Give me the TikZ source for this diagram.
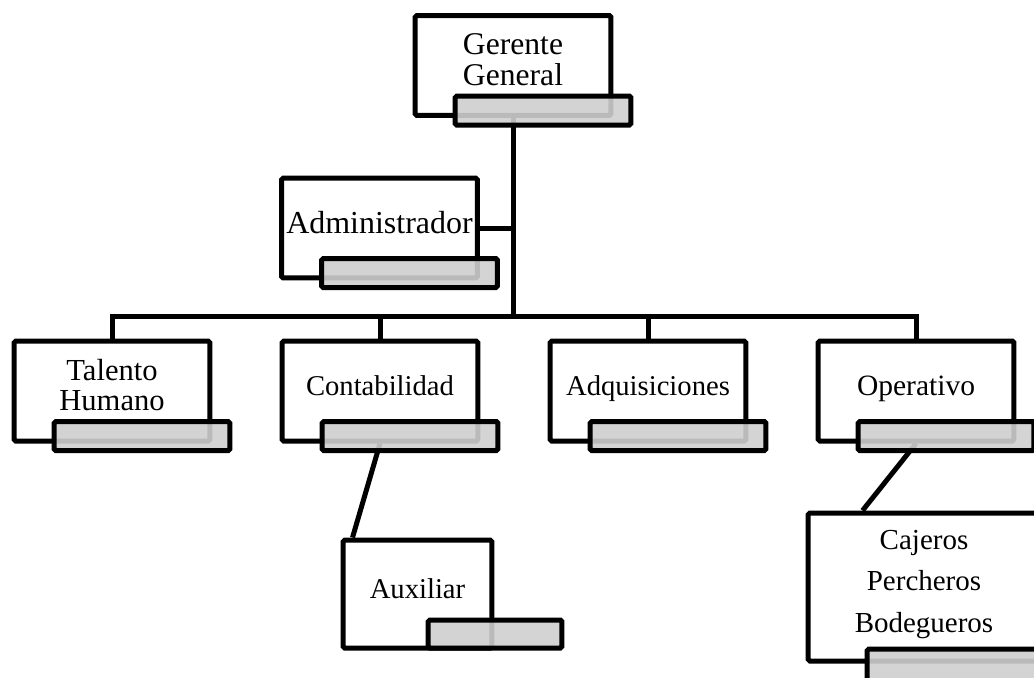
\documentclass[tikz,border=0pt]{standalone}
\usepackage{fontspec}
\setmainfont{Liberation Serif}
\usetikzlibrary{calc,backgrounds}

\newcommand*{\linew}{0.1cm}
\newcommand*{\boxfont}[2]{\fontsize{#1}{#2}\selectfont}

\begin{document}
\begin{tikzpicture}
[
	x=0.02cm,
	y=-0.02cm,
	box/.style={draw,fill=white,line width=\linew,rounded corners=1pt,minimum width=3.92cm,minimum height=2cm,inner sep=0pt,align=center,text depth=0.23cm,font=\boxfont{16.3}{17}},
	bar/.style={draw,fill=black!19,fill opacity=0.9,line width=\linew,rounded corners=1pt,minimum width=3.52cm,minimum height=0.58cm,inner sep=0pt},
	conn/.style={line width=\linew}
]

	\useasboundingbox (0,0) rectangle (1034,677);
	\clip (0,0) rectangle (1034,677);

	% top
	\node[box,font=\boxfont{18}{17.5}] (ger) at (513,65.5) {Gerente\\General};
	\node[bar] (gerbar) at ([shift={(30,45)}]ger.center) {};

	\node[box,font=\boxfont{18.2}{17.5}] (adm) at (379.5,228) {Administrador};
	\node[bar] (admbar) at ([shift={(30,45)}]adm.center) {};

	% departments
	\node[box,font=\boxfont{17.4}{17}] (tal) at (112,391) {Talento\\Humano};
	\node[bar] (talbar) at ([shift={(30,45)}]tal.center) {};

	\node[box] (con) at (380,391) {Contabilidad};
	\node[bar] (conbar) at ([shift={(30,45)}]con.center) {};

	\node[box] (adq) at (648,391) {Adquisiciones};
	\node[bar] (adqbar) at ([shift={(30,45)}]adq.center) {};

	\node[box,font=\boxfont{16.8}{17}] (ope) at (916,391) {Operativo};
	\node[bar] (opebar) at ([shift={(30,45)}]ope.center) {};

	% lower level
	\node[box,minimum width=2.98cm,minimum height=2.16cm] (aux) at (417.5,594) {Auxiliar};
	\node[bar,minimum width=2.68cm,minimum height=0.56cm] (auxbar) at ([shift={(77.5,40)}]aux.center) {};

	\node[box,minimum width=4.64cm,minimum height=2.96cm,font=\boxfont{16.5}{23.5}] (caj) at (924,587) {Cajeros\\Percheros\\Bodegueros};
	\node[bar,minimum width=3.6cm,minimum height=0.8cm] (cajbar) at ([shift={(33,82)}]caj.center) {};

	\coordinate (bus) at (513,316);

	\begin{pgfonlayer}{background}
		\draw[conn] (ger.south) -- (bus);
		\draw[conn] (adm.east) -- (adm.east -| bus);
		\draw[conn] (tal.north) |- (bus) -| (ope.north);
		\draw[conn] (con.north) -- (con.north |- bus);
		\draw[conn] (adq.north) -- (adq.north |- bus);
		\draw[conn] (con.south) -- ($(aux.north west)+(12,0)$);
		\draw[conn] (ope.south) -- ($(caj.north west)+(57,0)$);
	\end{pgfonlayer}

\end{tikzpicture}
\end{document}
